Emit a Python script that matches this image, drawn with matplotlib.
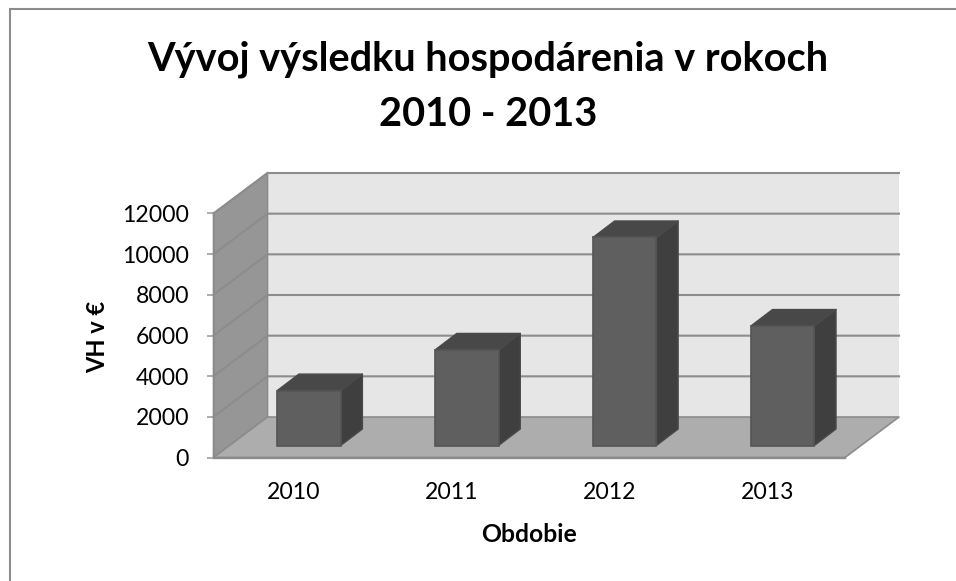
import numpy as np
import matplotlib
matplotlib.use("Agg")
from matplotlib import pyplot as plt
from matplotlib.patches import Polygon, Rectangle

years = ["2010", "2011", "2012", "2013"]
vh = [2700, 4700, 10230, 5875]
y_ticks = [0, 2000, 4000, 6000, 8000, 10000, 12000]

title = "Vývoj výsledku hospodárenia v rokoch\n2010 - 2013"
x_title = "Obdobie"
y_title = "VH v €"

W, H = 956, 581
# front plane of the box, pixels
left, right, top, bottom = 213.5, 845.0, 213.5, 457.5

plt.rcParams["font.family"] = ["Lato", "DejaVu Sans"]

fig = plt.figure(figsize=(W / 100, H / 100), dpi=100)
ax = fig.add_axes([left / W, 1 - bottom / H, (right - left) / W, (bottom - top) / H])
ax.set_xlim(0, len(years))
ax.set_ylim(0, 12000)
ax.patch.set_visible(False)
for s in ax.spines.values():
    s.set_visible(False)

# outer frame
fig.add_artist(Rectangle((9.5 / W, -0.1), 1.2, 1.1 - 9.5 / H, transform=fig.transFigure,
                         fc="none", ec="#8c8c8c", lw=1.5))

# depth of the box and of the bars, in data units
ux = len(years) / (right - left)
uy = 12000 / (bottom - top)
dx, dy = 54 * ux, 40.5 * uy
bar_w = 63.5 * ux
bar_dx, bar_dy = 21.7 * ux, 16.5 * uy
bar_off_x, bar_off_y = 16.5 * ux, 12 * uy

line = "#8c8c8c"
n = len(years)


def poly(pts, fc, ec, lw=1.2, z=1):
    ax.add_patch(Polygon(pts, closed=True, fc=fc, ec=ec, lw=lw, clip_on=False, zorder=z,
                         joinstyle="round"))


# back wall, side wall, floor
poly([(dx, dy), (n + dx, dy), (n + dx, 12000 + dy), (dx, 12000 + dy)], "#e6e6e6", "none", 0, 1)
poly([(0, 0), (dx, dy), (dx, 12000 + dy), (0, 12000)], "#969696", line, 1.2, 1)
poly([(0, 0), (n, 0), (n + dx, dy), (dx, dy)], "#adadad", line, 1.2, 1)

for t in y_ticks:
    if t > 0:
        ax.plot([0, dx, n + dx], [t, t + dy, t + dy], color=line, lw=1.5, clip_on=False,
                zorder=2, solid_joinstyle="miter")
ax.plot([0, n], [0, 0], color=line, lw=1.7, clip_on=False, zorder=3)
ax.plot([0, 0], [0, 12000], color=line, lw=1.4, clip_on=False, zorder=3)

# bars
for i, v in enumerate(vh):
    x0 = i + 0.5 - bar_w / 2 + bar_off_x
    x1 = x0 + bar_w
    y0 = bar_off_y
    y1 = v + bar_off_y
    ax.bar(x0, v, bar_w, bottom=y0, align="edge", color="#5f5f5f", edgecolor="#555555",
           lw=1.2, clip_on=False, zorder=6)
    poly([(x1, y0), (x1 + bar_dx, y0 + bar_dy), (x1 + bar_dx, y1 + bar_dy), (x1, y1)],
         "#3f3f3f", "#4a4a4a", 1.0, 5)
    poly([(x0, y1), (x1, y1), (x1 + bar_dx, y1 + bar_dy), (x0 + bar_dx, y1 + bar_dy)],
         "#484848", "#4a4a4a", 1.0, 5)

ax.set_yticks(y_ticks)
ax.set_xticks([i + 0.5 + 1.5 * ux for i in range(n)])
ax.set_xticklabels(years)
ax.tick_params(axis="x", length=0, pad=17.5, labelsize=16.6, colors="black")
ax.tick_params(axis="y", length=4.7, width=1.2, color="#a0a0a0", pad=13, labelsize=16.6,
               labelcolor="black")

fig.text(488 / W, 1 - 87 / H, title, ha="center", va="center", fontsize=28.6, fontweight="bold",
         linespacing=1.6)
fig.text(529 / W, 1 - 534 / H, x_title, ha="center", va="center", fontsize=17.8, fontweight="bold")
fig.text(98 / W, 1 - 336.5 / H, y_title, ha="center", va="center", rotation=90, fontsize=17,
         fontweight="bold")

fig.savefig("out.png", dpi=100)
